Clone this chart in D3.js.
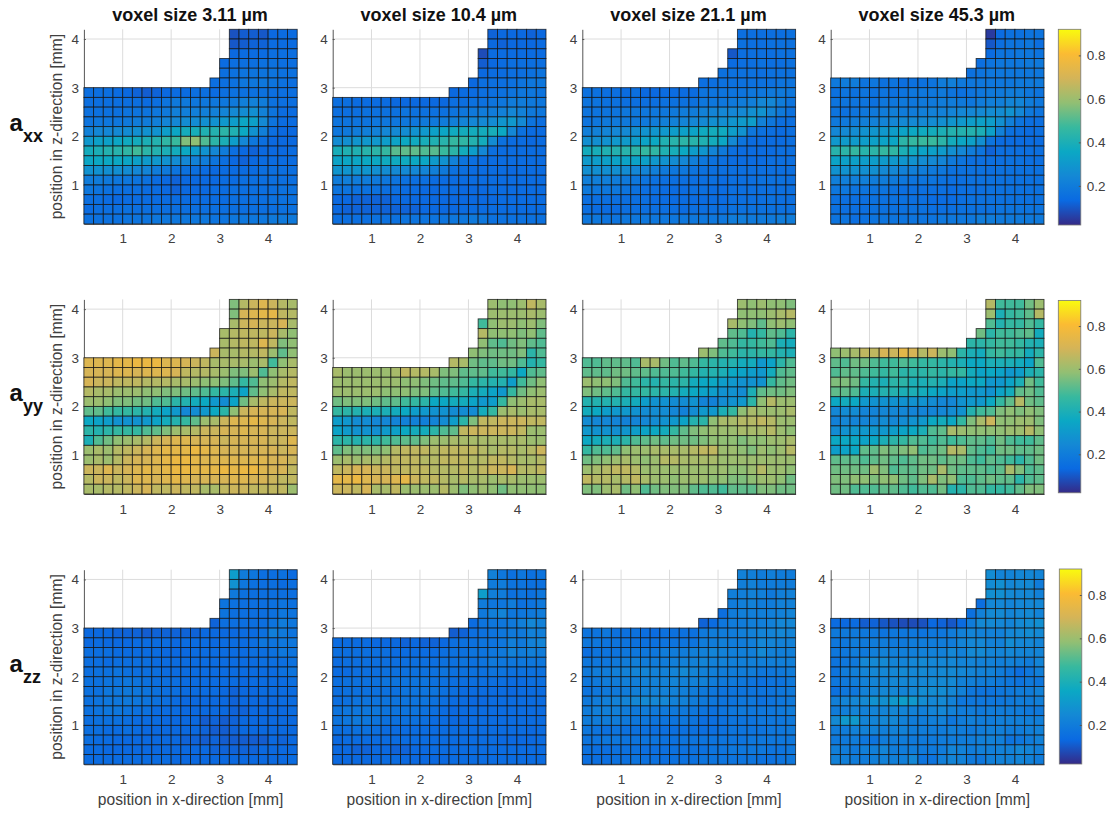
<!DOCTYPE html>
<html>
<head>
<meta charset="utf-8">
<script src="https://cdn.jsdelivr.net/npm/d3@7/dist/d3.min.js"></script>
<style>
html,body{margin:0;padding:0;background:#fff;}
svg{display:block;}
text{font-family:"Liberation Sans",Arial,sans-serif;}
</style>
</head>
<body>
<svg id="c" width="1115" height="814"></svg>
<script>
// Values are read from the picture, in hundredths. Each list runs from the top row (z 4.0-4.2)
// down to the bottom row (z 0.2-0.4). Rows are right-aligned: short rows lack their left-hand cells.
const voxelLabels = ["voxel size 3.11 µm","voxel size 10.4 µm","voxel size 21.1 µm","voxel size 45.3 µm"];
const componentNames = ["xx","yy","zz"];
const xTicks = [1,2,3,4];
const zTicks = [1,2,3,4];
const barTicks = [0.2,0.4,0.6,0.8];
const colorStops = ["#352a87","#0a6ae2","#1488d5","#0ba8c4","#38b99e","#92bf73","#d4b458","#fbbb33","#f9fb0e"];
const valueRange = [0.02,0.92];

const axx_3 = [
[9,11,11,10,13,14,14],
[10,11,12,12,14,14,14],
[13,14,14,14,15,15,15],
[14,15,15,15,16,16,15,15],
[15,16,17,17,17,17,16,16],
[15,15,16,18,18,18,17,16,15],
[15,15,15,14,13,12,11,12,13,14,14,15,15,14,15,16,16,16,16,15,15,15],
[15,15,15,15,15,15,14,15,17,19,19,18,18,18,18,19,21,22,20,16,15,15],
[16,16,16,16,17,17,17,18,19,21,21,21,21,22,23,25,26,27,22,17,14,14],
[17,18,18,18,19,20,20,21,23,24,26,26,27,28,30,32,35,33,25,17,14,14],
[22,24,24,25,26,27,28,28,32,35,38,39,41,42,44,41,36,28,21,15,13,13],
[30,33,33,35,37,38,40,42,45,47,56,58,50,44,40,32,24,18,15,13,13,13],
[38,40,42,43,45,48,44,42,40,38,36,32,28,24,20,15,13,12,13,13,13,14],
[35,36,36,36,35,33,31,30,28,26,24,22,20,17,15,13,12,13,14,14,14,14],
[28,28,27,27,26,24,23,20,19,17,16,15,14,13,14,14,14,14,15,15,15,15],
[20,20,19,18,18,17,16,14,13,12,13,13,13,13,14,14,15,15,15,15,15,15],
[18,17,16,15,15,15,14,14,13,12,13,13,13,14,14,15,15,15,15,15,16,16],
[15,15,14,13,14,14,14,14,14,14,14,14,14,14,14,15,15,15,15,16,16,16],
[14,15,15,15,16,15,15,15,15,15,15,15,15,15,15,15,15,15,15,15,16,16],
[16,16,16,16,17,17,17,18,18,18,18,18,18,17,17,18,18,18,18,19,19,19]];
const axx_10 = [
[12,13,13,13,12,13],
[13,12,13,13,13,14],
[8,14,14,14,14,14,14],
[11,13,14,15,15,15,15],
[13,14,14,15,15,16,17],
[13,15,15,15,16,17,18,18],
[13,14,14,15,15,16,17,18,18,17],
[15,15,14,14,14,14,13,13,13,13,13,13,15,15,16,16,17,18,20,20,19,18],
[15,15,15,16,16,16,16,17,16,16,16,16,17,18,19,20,20,22,24,22,19,18],
[17,17,17,17,18,18,18,18,18,19,19,20,21,23,24,25,26,29,30,25,17,15],
[18,19,20,21,22,24,25,26,28,30,33,35,37,38,38,38,39,36,24,16,14,14],
[26,27,29,30,30,32,34,36,37,39,41,43,46,45,42,38,26,16,14,14,13,14],
[39,41,41,43,44,46,51,52,52,50,51,47,44,38,32,24,15,14,14,14,14,14],
[34,35,35,36,36,37,37,37,36,35,31,28,22,17,15,14,14,14,14,14,14,14],
[29,29,29,29,27,26,25,25,24,23,21,19,16,15,14,14,14,14,13,14,14,14],
[20,21,20,20,19,18,17,16,15,15,14,14,14,14,14,14,14,14,14,14,14,14],
[17,17,16,16,16,15,15,14,14,13,13,14,14,13,13,13,14,14,14,14,14,14],
[13,13,12,12,12,12,13,13,13,13,13,13,13,13,13,13,13,14,14,14,14,14],
[13,12,12,12,12,12,12,12,12,13,13,13,13,14,14,14,14,14,14,14,14,14],
[15,15,15,15,16,16,16,17,17,17,17,17,18,18,19,18,16,16,16,16,16,16]];
const axx_21 = [
[15,15,15,15,15,16],
[16,15,15,16,16,16],
[10,15,15,15,15,16,16],
[14,15,15,16,15,15,16],
[16,16,16,16,15,16,16,16],
[15,15,16,16,16,16,16,16,17,17],
[16,16,15,15,14,15,13,13,14,14,14,14,17,17,17,17,17,18,18,19,19,18],
[17,17,16,16,15,15,15,15,16,16,16,16,18,18,18,19,20,21,24,24,20,17],
[17,17,17,17,18,18,18,18,18,19,20,20,22,23,24,24,25,27,28,23,19,16],
[17,18,19,19,19,19,19,20,21,22,23,24,25,27,27,29,31,32,22,18,15,15],
[21,22,23,24,25,27,28,29,30,32,33,34,37,38,37,32,28,18,16,15,14,15],
[27,27,28,30,31,32,34,36,41,43,44,43,41,38,35,25,17,14,14,14,14,15],
[38,39,41,42,43,44,46,45,41,39,36,32,29,23,19,15,14,14,14,14,15,15],
[31,32,33,34,34,34,33,30,28,26,24,21,18,16,15,14,14,14,14,15,15,15],
[27,27,27,27,26,24,23,21,19,18,18,17,16,15,15,15,15,15,15,15,15,15],
[21,21,21,20,19,18,17,16,15,15,15,15,15,15,14,15,15,15,16,16,16,15],
[19,18,18,18,17,16,15,15,14,14,14,15,15,14,14,15,15,15,15,15,15,15],
[15,15,15,15,15,15,15,14,14,14,14,14,14,14,14,15,15,15,15,16,15,15],
[15,14,14,14,15,15,15,15,15,15,14,15,15,15,15,16,16,16,16,16,16,16],
[18,18,17,17,18,18,18,18,18,18,18,18,18,18,18,20,20,19,19,19,20,20]];
const axx_45 = [
[5,14,16,16,17,17],
[10,15,17,17,18,15],
[14,17,17,18,18,17],
[15,17,18,18,18,19,19],
[16,17,18,18,18,18,18,18],
[19,20,20,17,18,16,17,15,16,16,17,20,21,19,18,18,18,18,18,19,19,19],
[16,17,16,17,16,17,16,17,18,18,18,19,17,16,17,18,19,19,20,20,18,17],
[17,17,17,17,16,18,18,19,18,19,19,20,20,19,18,20,21,21,23,23,20,18],
[17,16,17,18,19,20,21,20,20,21,22,22,23,24,24,25,26,26,28,24,19,17],
[19,19,20,21,22,23,24,25,25,25,26,27,29,30,32,33,32,27,21,17,15,15],
[24,25,26,28,29,30,32,34,36,37,38,40,42,42,42,40,33,22,16,15,14,15],
[30,31,31,32,33,34,35,44,46,47,47,44,38,35,33,27,17,14,14,14,14,14],
[43,44,46,43,44,46,45,40,37,34,33,31,27,24,20,17,12,15,15,15,15,15],
[34,33,33,32,32,31,30,29,28,26,25,23,19,17,15,15,15,15,16,16,15,15],
[28,28,28,27,27,25,24,22,21,20,19,18,16,16,16,16,15,16,16,16,16,16],
[21,21,21,21,20,20,19,18,17,17,17,16,15,15,16,16,16,16,16,16,16,16],
[18,18,17,17,17,17,16,15,15,15,15,15,14,15,15,15,16,16,16,16,16,16],
[16,15,15,15,16,16,16,16,15,15,14,14,14,15,16,16,16,16,16,16,16,16],
[16,15,15,15,16,16,16,16,16,16,15,15,15,16,16,16,16,17,17,17,17,17],
[17,17,15,16,17,17,17,17,17,17,17,18,18,18,18,20,20,19,19,19,19,19]];

const ayy_3 = [
[56,64,68,72,68,64,62],
[56,70,72,74,74,66,64],
[62,68,70,68,68,70,62],
[62,64,66,66,66,68,62,58],
[62,64,66,66,72,66,56,58],
[68,62,62,64,64,66,60,52,58],
[72,72,72,74,74,76,76,76,72,72,70,68,66,62,62,62,62,60,62,48,58,62],
[70,70,70,72,72,70,72,72,72,70,66,64,64,62,60,56,56,60,50,58,62,64],
[70,68,68,66,66,66,64,64,64,62,62,60,58,58,56,52,46,50,58,60,64,66],
[64,62,62,60,60,60,58,58,56,56,54,52,50,46,44,40,34,52,58,62,66,66],
[60,60,58,56,56,54,54,50,50,44,42,38,36,30,26,34,54,62,66,68,68,68],
[52,52,48,46,46,44,42,38,34,30,24,26,30,36,44,58,68,70,70,70,70,66],
[36,34,32,28,28,28,30,34,38,42,46,52,60,62,68,72,72,74,72,70,68,66],
[44,42,44,46,46,46,50,52,56,60,62,64,68,68,70,70,72,70,70,68,68,68],
[40,50,54,58,60,62,64,68,70,72,72,70,70,70,68,70,70,70,70,68,68,72],
[60,62,60,64,66,68,70,72,74,74,74,76,74,72,70,70,70,70,70,70,68,70],
[60,62,60,64,68,70,70,72,74,76,76,74,72,72,72,72,72,72,72,70,70,68],
[68,68,72,68,70,72,74,72,74,76,76,74,74,74,76,74,76,76,72,70,70,66],
[64,68,68,66,68,72,72,70,72,74,72,70,70,70,70,72,72,70,70,68,66,66],
[62,62,64,64,66,68,70,66,66,68,66,66,62,62,66,68,68,66,66,66,66,60]];
const ayy_10 = [
[60,58,58,60,66,62],
[60,60,60,60,62,60],
[48,58,60,60,58,60,56],
[64,58,58,58,56,58,52],
[58,52,50,54,56,52,50],
[58,56,54,54,54,56,44,50],
[64,62,54,52,52,54,54,50,42,46],
[62,60,60,60,60,60,62,66,64,64,62,56,56,52,52,52,48,48,46,36,50,52],
[60,60,60,60,60,60,60,58,58,56,54,52,52,50,46,44,42,42,32,48,54,58],
[60,60,60,60,60,58,58,58,56,56,52,50,48,46,40,38,34,30,46,54,58,60],
[54,56,56,56,54,52,52,48,46,44,36,36,38,38,34,30,32,46,58,60,62,62],
[46,44,42,40,40,40,38,36,32,30,28,28,26,26,26,38,46,60,62,60,62,62],
[32,30,26,26,24,24,23,22,22,21,23,26,32,44,56,66,66,68,68,68,66,66],
[34,31,28,28,27,31,33,36,38,38,44,50,52,66,68,68,68,68,68,66,60,60],
[44,44,42,44,44,48,50,52,52,56,60,60,62,62,62,62,62,62,62,62,60,60],
[52,56,56,56,56,58,64,66,66,66,64,66,66,66,66,64,62,64,64,62,64,68],
[60,62,60,62,62,64,66,66,66,64,64,66,66,66,64,64,66,66,64,62,62,64],
[66,68,70,70,68,68,66,66,66,66,64,64,64,66,64,66,68,68,70,64,64,66],
[74,74,76,72,70,70,72,74,68,66,66,64,62,64,62,62,60,62,62,60,60,60],
[68,68,66,70,62,62,66,60,60,60,60,64,60,56,58,60,58,54,58,58,58,58]];
const ayy_21 = [
[60,58,60,58,58,56],
[58,58,58,60,62,64],
[62,58,56,52,58,60,58],
[52,50,42,46,52,50,44],
[52,50,46,46,48,50,40,38],
[60,56,50,48,44,44,46,46,42,40],
[50,50,52,52,52,50,62,62,54,50,52,50,46,44,42,42,38,38,30,34,44,50],
[52,52,52,54,54,52,52,50,50,50,48,46,42,42,40,36,34,32,30,38,50,52],
[60,58,58,56,50,48,44,42,46,44,44,38,36,36,32,30,28,28,28,46,52,54],
[56,54,52,50,46,46,46,44,44,42,38,36,34,32,28,28,26,40,52,54,54,56],
[42,42,42,42,40,38,32,28,28,26,26,28,23,22,26,28,30,44,58,64,60,60],
[38,36,32,30,30,28,26,26,26,24,22,26,30,30,40,46,58,62,60,60,60,62],
[26,24,24,23,22,23,24,26,28,30,34,42,44,58,62,62,64,64,66,64,60,60],
[30,28,28,27,29,32,34,36,38,46,52,56,58,60,60,60,62,62,62,64,60,58],
[36,38,40,40,44,50,52,54,52,54,54,54,56,58,58,58,56,58,58,60,60,62],
[46,50,50,52,58,60,60,62,62,62,62,64,66,66,60,60,58,56,60,58,60,64],
[54,56,58,60,62,60,58,60,64,64,62,62,62,62,60,60,60,60,60,60,60,60],
[60,62,64,66,66,64,60,60,60,60,60,60,60,60,60,58,58,60,64,60,60,58],
[66,64,64,62,64,66,62,60,60,58,60,60,60,58,58,56,56,58,60,60,58,54],
[56,56,60,62,54,58,50,54,56,56,56,52,50,50,48,52,52,52,56,56,54,54]];
const ayy_45 = [
[64,48,48,48,54,60],
[60,40,46,48,52,64],
[50,42,46,46,50,46],
[54,44,48,48,50,52,38],
[44,44,46,48,48,46,42,40],
[58,60,62,66,66,70,68,74,70,64,68,60,58,44,40,38,46,48,46,46,38,44],
[52,50,54,54,50,48,48,50,48,46,46,44,42,40,36,36,40,40,40,38,34,50],
[50,52,52,50,48,46,48,44,44,44,46,44,46,46,38,34,36,34,30,32,40,44],
[56,56,54,46,42,40,44,44,40,40,42,40,34,34,36,36,30,30,34,40,54,48],
[52,52,50,40,40,42,42,40,40,38,36,34,32,32,30,30,28,34,38,52,54,50],
[36,38,36,30,28,28,28,28,28,28,26,24,24,28,30,30,36,46,52,64,54,52],
[24,26,26,23,23,24,24,24,23,23,23,24,26,28,42,48,50,56,58,56,58,56],
[22,24,23,23,24,26,24,26,28,30,36,38,36,46,56,62,68,58,58,60,60,56],
[26,28,30,30,30,30,32,34,36,40,50,52,62,60,58,58,58,58,60,60,64,58],
[36,36,36,34,36,40,44,46,50,50,48,50,48,50,52,52,50,54,50,48,48,52],
[32,34,36,52,52,56,54,56,58,50,52,54,64,62,52,50,48,54,54,52,52,54],
[52,52,52,50,52,54,52,50,52,54,54,52,54,54,50,48,52,50,48,44,50,54],
[54,54,54,54,60,56,50,52,52,54,54,62,54,52,52,52,50,52,62,56,50,52],
[56,56,58,58,56,58,58,54,52,56,62,56,58,50,50,52,54,52,52,44,50,52],
[54,54,50,50,50,52,52,50,48,50,50,54,42,44,50,50,46,46,48,52,56,56]];

const azz_3 = [
[32,20,18,15,15,16,14],
[28,18,16,15,15,14,15],
[19,16,15,15,15,15,15],
[17,16,15,15,15,16,17,16],
[17,15,15,15,15,16,18,17],
[12,15,15,15,15,15,17,20,18],
[13,13,13,12,12,12,11,12,12,12,12,12,13,13,13,13,14,14,16,21,19,17],
[13,14,13,13,13,14,14,14,14,13,14,14,14,13,14,14,14,15,18,17,18,18],
[15,15,15,14,14,14,14,14,13,13,13,14,14,14,14,14,14,15,15,16,18,17],
[15,15,14,15,15,15,15,14,14,14,14,14,14,14,14,14,14,14,15,15,15,16],
[15,16,16,17,16,15,15,15,14,14,14,14,14,14,14,14,14,14,14,14,16,17],
[16,16,17,17,18,17,16,15,15,15,14,14,14,14,14,14,13,14,14,14,14,15],
[16,16,18,18,19,18,17,16,15,15,14,14,14,14,13,12,13,13,14,14,14,14],
[16,17,18,18,19,18,17,16,15,14,13,13,13,13,13,12,13,13,13,13,14,14],
[16,17,18,18,17,16,16,14,14,14,13,13,13,13,13,12,12,13,13,13,13,14],
[15,16,16,16,15,14,14,14,13,13,13,13,11,12,11,12,13,13,13,13,13,13],
[15,15,14,14,15,14,13,13,13,13,13,13,12,11,11,12,13,13,13,13,13,13],
[15,14,14,13,13,13,13,13,13,13,12,12,11,12,11,11,11,11,11,13,12,13],
[14,14,13,13,13,13,13,13,13,13,13,13,13,12,12,12,12,12,13,13,13,13],
[14,14,14,14,14,14,14,14,14,13,13,13,13,13,13,13,13,13,13,13,13,14]];
const azz_10 = [
[22,18,16,18,16,17],
[20,20,17,17,16,16],
[32,21,20,16,17,16,18],
[20,18,18,20,16,17,19],
[19,21,23,18,18,19,20],
[14,17,18,18,19,21,24,22],
[11,12,15,16,17,18,19,19,22,21],
[14,14,14,14,13,13,13,12,13,12,12,13,15,16,16,17,17,18,21,19,22,23],
[15,15,15,15,15,15,14,14,14,14,14,15,16,16,17,17,18,19,22,20,21,20],
[14,15,15,15,15,15,15,15,15,15,15,16,16,17,16,17,19,18,18,18,18,18],
[14,14,15,15,15,16,16,16,16,16,16,17,16,16,16,16,17,17,16,16,16,16],
[15,16,16,16,16,17,17,17,17,17,16,16,15,15,15,15,15,15,14,14,15,15],
[15,16,16,16,16,16,16,17,17,17,17,16,15,14,14,14,14,14,13,14,14,14],
[15,16,17,17,17,17,17,17,17,17,16,15,14,14,13,13,14,14,14,14,14,14],
[17,18,18,18,18,17,17,17,17,16,15,14,13,14,14,14,14,14,14,14,14,14],
[17,18,19,18,17,16,16,16,16,15,14,14,13,13,14,14,14,14,14,14,14,14],
[15,15,16,16,15,14,14,14,14,14,14,14,14,14,14,14,14,14,14,14,13,14],
[13,14,14,14,14,14,14,14,14,14,14,14,14,14,14,14,14,13,13,13,13,14],
[13,13,12,12,13,13,12,12,13,13,14,14,14,14,14,14,14,14,14,14,14,14],
[13,13,13,13,13,14,14,13,13,13,13,13,14,14,14,14,14,14,14,14,14,14]];
const azz_21 = [
[22,21,20,21,20,20],
[21,22,20,20,20,20],
[21,21,22,21,19,21,22],
[20,21,22,20,20,22,22],
[15,20,21,21,21,21,22,23],
[12,14,18,20,20,21,21,22,24,24],
[17,17,18,16,16,16,15,14,16,16,16,16,19,20,20,20,21,22,23,23,24,23],
[18,18,17,17,17,16,16,16,17,17,17,17,20,20,21,20,20,21,24,23,22,22],
[15,17,17,17,18,18,18,18,20,20,20,21,22,23,22,21,21,21,25,22,21,21],
[18,18,18,19,20,21,20,20,20,21,22,22,23,22,22,21,21,21,21,21,21,21],
[19,20,20,21,22,23,23,22,22,23,25,23,22,21,20,20,20,20,18,18,19,20],
[18,19,20,20,21,21,22,22,22,23,22,22,22,20,19,19,18,17,16,17,17,19],
[17,18,19,19,20,21,22,22,22,22,21,20,19,18,17,17,17,17,17,17,18,19],
[19,20,21,22,23,24,25,24,24,22,22,20,19,18,17,17,18,18,16,17,18,19],
[20,21,21,21,20,19,20,19,19,19,19,18,17,16,17,18,19,18,18,18,19,20],
[20,20,20,20,19,18,18,17,17,17,18,17,15,15,16,17,17,17,18,18,18,19],
[18,17,16,17,16,16,16,15,15,15,16,16,15,15,16,17,17,17,17,18,18,19],
[17,17,18,18,17,17,17,17,16,16,17,17,17,17,17,17,17,18,18,18,18,18],
[16,15,15,16,16,16,15,15,15,16,16,16,16,17,17,18,18,18,18,17,17,18],
[15,15,15,16,16,17,16,16,15,16,16,16,17,17,17,17,17,17,16,16,17,18]];
const azz_45 = [
[26,23,23,24,24,23],
[26,27,24,25,25,20],
[27,27,25,24,24,22],
[15,24,24,23,24,24,24],
[16,22,25,25,23,24,25,23],
[14,13,14,11,12,10,9,8,8,9,13,12,10,14,20,25,25,24,23,25,26,27],
[19,19,19,18,18,17,18,18,18,17,18,18,20,22,23,22,22,22,24,25,26,25],
[18,18,20,19,20,20,19,19,20,20,20,20,20,23,24,24,22,22,26,24,24,23],
[18,18,20,19,21,22,21,21,21,22,22,22,24,22,25,25,23,23,24,23,23,23],
[17,18,19,24,25,25,23,23,24,25,24,24,24,23,23,22,22,21,22,21,20,23],
[17,20,21,23,24,24,24,25,24,25,24,25,25,24,23,22,22,20,18,15,18,21],
[18,19,20,22,23,23,24,24,24,24,25,25,25,22,21,20,20,19,18,17,19,18],
[16,18,18,22,23,24,24,23,24,26,26,26,24,22,18,17,17,18,19,20,20,22],
[21,23,24,25,28,27,30,32,30,26,24,25,22,18,18,18,18,18,19,20,20,21],
[20,21,23,22,23,23,24,23,22,21,23,24,22,20,20,19,20,20,20,20,19,19],
[25,30,30,23,23,24,24,22,20,20,21,22,18,20,21,20,20,21,21,21,21,21],
[20,20,22,22,22,21,22,22,20,20,20,20,21,20,19,20,21,21,20,20,21,22],
[19,19,20,18,17,20,20,20,19,19,19,20,20,20,20,21,22,21,17,18,20,22],
[21,20,19,21,21,23,20,20,20,19,19,20,23,22,20,21,21,22,22,24,23,21],
[22,21,20,20,21,22,21,21,24,17,17,21,23,22,19,18,21,22,22,23,22,20]];

const grids = [
  [axx_3,axx_10,axx_21,axx_45],
  [ayy_3,ayy_10,ayy_21,ayy_45],
  [azz_3,azz_10,azz_21,azz_45]
];

// layout
const colLeft = [83.9,332.7,582.3,830.7];
const panelW = 213.3;
const rowTop = [29.3,299.4,569.7];
const panelH = 194.6;
const barX = [1058.3,1058.3,1059.3];
const barW = 22.5;
const barY = [[29.3,225],[300.4,492.8],[569,764]];
const inkText = "#404040";

const svg = d3.select("#c");
const stopDomain = colorStops.map((_, i) => valueRange[0] + (valueRange[1]-valueRange[0]) * i/(colorStops.length-1));
const color = d3.scaleLinear().domain(stopDomain).range(colorStops).interpolate(d3.interpolateRgb);
const cellSize = 0.2, xMax = 4.6, zMin = 0.2, zMax = 4.2, nCols = 22;

grids.forEach((rowPanels, ri) => {
  rowPanels.forEach((grid, ci) => {
    const g = svg.append("g").attr("transform", `translate(${colLeft[ci]},${rowTop[ri]})`);
    const x = d3.scaleLinear().domain([zMin, xMax]).range([0, panelW]);
    const y = d3.scaleLinear().domain([zMin, zMax]).range([panelH, 0]);

    // grid
    g.append("g").selectAll("line").data(xTicks).join("line")
      .attr("x1", d=>x(d)).attr("x2", d=>x(d)).attr("y1",0).attr("y2",panelH)
      .attr("stroke","#dcdcdc").attr("stroke-width",1);
    g.append("g").selectAll("line").data(zTicks).join("line")
      .attr("y1", d=>y(d)).attr("y2", d=>y(d)).attr("x1",0).attr("x2",panelW)
      .attr("stroke","#dcdcdc").attr("stroke-width",1);

    // axes
    const ax = g.append("g").attr("transform",`translate(0,${panelH})`)
      .call(d3.axisBottom(x).tickValues(xTicks).tickFormat(d3.format("d")).tickSizeInner(-2).tickSizeOuter(0).tickPadding(10));
    const ay = g.append("g")
      .call(d3.axisLeft(y).tickValues(zTicks).tickFormat(d3.format("d")).tickSizeInner(-2).tickSizeOuter(0).tickPadding(5));
    [ax,ay].forEach(a=>{
      a.selectAll("text").attr("font-size",13.5).attr("fill",inkText).attr("font-family",'"Liberation Sans",Arial,sans-serif');
      a.selectAll("path,line").attr("stroke","#555");
    });

    // cells
    const cells = [];
    grid.forEach((vals, r) => {
      const start = nCols - vals.length;
      vals.forEach((v, k) => {
        const xl = zMin + (start + k) * cellSize;
        const zt = zMax - r * cellSize;
        cells.push({xl, zt, v: v/100});
      });
    });
    g.append("g").selectAll("rect").data(cells).join("rect")
      .attr("x", d=>x(d.xl)).attr("y", d=>y(d.zt))
      .attr("width", x(zMin+cellSize)-x(zMin)).attr("height", y(zMin)-y(zMin+cellSize))
      .attr("fill", d=>color(d.v))
      .attr("stroke","#111").attr("stroke-opacity",0.8).attr("stroke-width",0.9);

    if (ri === 0) {
      g.append("text").attr("x",panelW/2-0.5).attr("y",-8).attr("text-anchor","middle")
        .attr("font-size",18).attr("font-weight","bold").attr("fill","#111").text(voxelLabels[ci]);
    }
    if (ri === 2) {
      g.append("text").attr("x",panelW/2).attr("y",panelH+40.5).attr("text-anchor","middle")
        .attr("font-size",15.6).attr("fill",inkText).text("position in x-direction [mm]");
    }
    if (ci === 0) {
      g.append("text").attr("transform",`translate(${-21.5},${panelH/2}) rotate(-90)`).attr("text-anchor","middle")
        .attr("font-size",15.6).attr("fill",inkText).text("position in z-direction [mm]");
    }
  });

  // colorbar
  const [by0, by1] = barY[ri];
  const id = "pb"+ri;
  const grad = svg.append("defs").append("linearGradient").attr("id",id).attr("x1",0).attr("x2",0).attr("y1",1).attr("y2",0);
  colorStops.forEach((c,i)=>grad.append("stop").attr("offset",i/(colorStops.length-1)).attr("stop-color",c));
  const bs = d3.scaleLinear().domain(valueRange).range([by1,by0]);
  const bg = svg.append("g").attr("transform",`translate(${barX[ri]},0)`);
  bg.append("rect").attr("x",0).attr("y",by0).attr("width",barW).attr("height",by1-by0)
    .attr("fill",`url(#${id})`).attr("stroke","#777").attr("stroke-width",0.8);
  const bax = bg.append("g").attr("transform",`translate(${barW},0)`)
    .call(d3.axisRight(bs).tickValues(barTicks).tickFormat(d3.format(".1f")).tickSizeInner(-2).tickSizeOuter(0).tickPadding(6));
  bax.select(".domain").remove();
  bax.selectAll("line").attr("stroke","#555");
  bax.selectAll("text").attr("font-size",13.5).attr("fill",inkText).attr("font-family",'"Liberation Sans",Arial,sans-serif');
});

// row labels
const labelA = [131,401,672];
const labelSub = [142,412,683];
componentNames.forEach((n,i)=>{
  svg.append("text").attr("x",9.5).attr("y",labelA[i]).attr("font-size",24).attr("font-weight","bold").attr("fill","#111").text("a");
  svg.append("text").attr("x",23).attr("y",labelSub[i]).attr("font-size",18).attr("font-weight","bold").attr("fill","#111").text(n);
});
</script>
</body>
</html>
